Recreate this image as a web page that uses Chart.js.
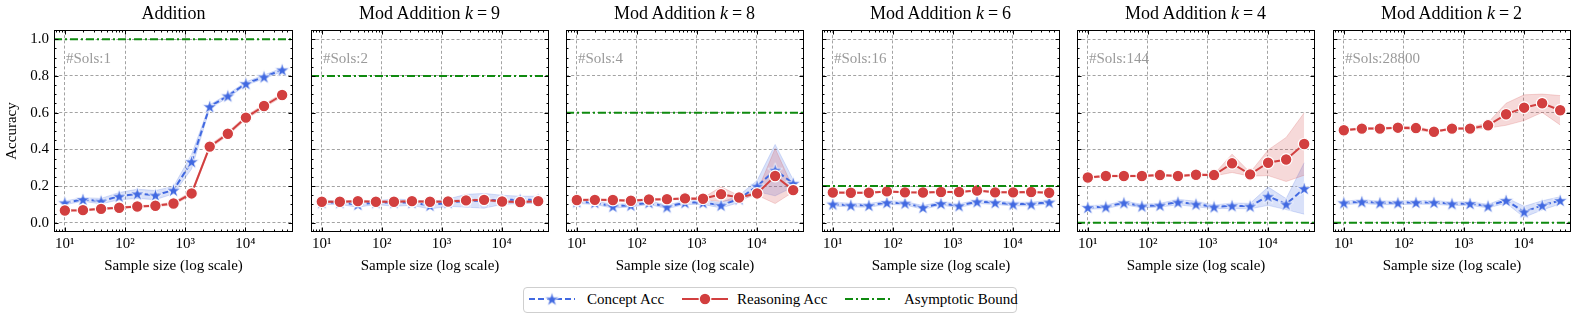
<!DOCTYPE html>
<html>
<head>
<meta charset="utf-8">
<script src="https://cdn.jsdelivr.net/npm/chart.js@4.4.1/dist/chart.umd.min.js"></script>
<style>
  html, body { margin: 0; padding: 0; background: #fff; }
  #wrap { position: relative; width: 1578px; height: 320px; overflow: hidden; font-family: 'Liberation Serif', 'Times New Roman', serif; color: #000; }
  canvas { position: absolute; top: 0; }
  .ptitle { position: absolute; top: 3px; width: 239px; text-align: center; font-size: 18px; line-height: 20px; white-space: nowrap; }
  .ptitle .eq { margin: 0 4px; }
  #legend { position: absolute; left: 523px; top: 287px; width: 492px; height: 24px; border: 1px solid #cfcfcf; border-radius: 4px; background: #fff; }
  .ltext { position: absolute; top: 290px; font-size: 15px; line-height: 18px; white-space: nowrap; }
</style>
</head>
<body>
<div id="wrap"></div>
<script>
// ---------------- data ----------------
const sampleSizes = [10, 20, 40, 80, 160, 320, 640, 1280, 2560, 5120, 10240, 20480, 40960];
const panelNames = ['Addition', 'Mod Addition', 'Mod Addition', 'Mod Addition', 'Mod Addition', 'Mod Addition'];
const modulusK = [null, 9, 8, 6, 4, 2];
const numSols = [1, 2, 4, 16, 144, 28800];
const asymptoticBound = [1.0, 0.8, 0.6, 0.2, 0.0, 0.0];
const xTickValues = [10, 100, 1000, 10000];
const xTickLabels = ['10¹', '10²', '10³', '10⁴'];
const yTickValues = [0.0, 0.2, 0.4, 0.6, 0.8, 1.0];
const yTickLabels = ['0.0', '0.2', '0.4', '0.6', '0.8', '1.0'];
const seriesNames = ['Concept Acc', 'Reasoning Acc', 'Asymptotic Bound'];

// Addition
const conceptAdd      = [0.109, 0.127, 0.118, 0.145, 0.158, 0.151, 0.178, 0.333, 0.633, 0.691, 0.758, 0.795, 0.833];
const conceptAddErr   = [0.010, 0.010, 0.015, 0.020, 0.025, 0.025, 0.020, 0.040, 0.010, 0.010, 0.010, 0.010, 0.010];
const reasoningAdd    = [0.067, 0.069, 0.076, 0.082, 0.089, 0.093, 0.105, 0.160, 0.415, 0.485, 0.573, 0.636, 0.696];
const reasoningAddErr = [0.005, 0.005, 0.005, 0.005, 0.005, 0.005, 0.008, 0.010, 0.010, 0.010, 0.010, 0.010, 0.010];
// Mod Addition k=9
const conceptK9       = [0.110, 0.110, 0.100, 0.110, 0.110, 0.110, 0.095, 0.110, 0.120, 0.120, 0.125, 0.125, 0.125];
const conceptK9Err    = [0.010, 0.010, 0.015, 0.010, 0.020, 0.015, 0.020, 0.020, 0.035, 0.040, 0.025, 0.020, 0.020];
const reasoningK9     = [0.115, 0.115, 0.118, 0.115, 0.115, 0.118, 0.115, 0.116, 0.122, 0.125, 0.116, 0.113, 0.118];
const reasoningK9Err  = [0.005, 0.005, 0.005, 0.005, 0.005, 0.005, 0.005, 0.005, 0.005, 0.005, 0.005, 0.005, 0.005];
// Mod Addition k=8
const conceptK8       = [0.115, 0.110, 0.090, 0.096, 0.110, 0.087, 0.110, 0.110, 0.096, 0.130, 0.200, 0.287, 0.215];
const conceptK8Err    = [0.010, 0.010, 0.010, 0.010, 0.010, 0.010, 0.010, 0.010, 0.015, 0.020, 0.030, 0.140, 0.020];
const reasoningK8     = [0.124, 0.125, 0.124, 0.120, 0.127, 0.129, 0.133, 0.131, 0.156, 0.138, 0.160, 0.255, 0.178];
const reasoningK8Err  = [0.005, 0.005, 0.005, 0.005, 0.005, 0.005, 0.005, 0.005, 0.040, 0.010, 0.010, 0.150, 0.010];
// Mod Addition k=6
const conceptK6       = [0.102, 0.096, 0.095, 0.110, 0.107, 0.084, 0.105, 0.093, 0.115, 0.110, 0.102, 0.102, 0.113];
const conceptK6Err    = [0.010, 0.010, 0.010, 0.010, 0.010, 0.010, 0.010, 0.010, 0.010, 0.010, 0.010, 0.010, 0.010];
const reasoningK6     = [0.165, 0.164, 0.164, 0.171, 0.166, 0.165, 0.168, 0.168, 0.176, 0.166, 0.166, 0.168, 0.164];
const reasoningK6Err  = [0.004, 0.004, 0.004, 0.004, 0.004, 0.004, 0.004, 0.004, 0.004, 0.004, 0.004, 0.004, 0.004];
// Mod Addition k=4
const conceptK4       = [0.084, 0.087, 0.109, 0.091, 0.096, 0.113, 0.102, 0.087, 0.093, 0.091, 0.145, 0.102, 0.187];
const conceptK4Err    = [0.010, 0.010, 0.010, 0.010, 0.010, 0.015, 0.015, 0.010, 0.015, 0.015, 0.050, 0.030, 0.140];
const reasoningK4     = [0.247, 0.255, 0.255, 0.255, 0.260, 0.255, 0.262, 0.260, 0.324, 0.264, 0.327, 0.345, 0.429];
const reasoningK4Err  = [0.005, 0.005, 0.005, 0.005, 0.005, 0.005, 0.005, 0.005, 0.050, 0.010, 0.070, 0.120, 0.170];
// Mod Addition k=2
const conceptK2       = [0.109, 0.115, 0.109, 0.109, 0.111, 0.111, 0.104, 0.105, 0.091, 0.122, 0.060, 0.095, 0.122];
const conceptK2Err    = [0.010, 0.010, 0.010, 0.010, 0.010, 0.010, 0.010, 0.010, 0.010, 0.015, 0.030, 0.025, 0.020];
const reasoningK2     = [0.504, 0.513, 0.513, 0.518, 0.516, 0.496, 0.513, 0.513, 0.531, 0.591, 0.627, 0.651, 0.613];
const reasoningK2Err  = [0.005, 0.005, 0.005, 0.005, 0.010, 0.005, 0.005, 0.005, 0.015, 0.060, 0.070, 0.050, 0.080];

const conceptSeries   = [conceptAdd, conceptK9, conceptK8, conceptK6, conceptK4, conceptK2];
const conceptErrs     = [conceptAddErr, conceptK9Err, conceptK8Err, conceptK6Err, conceptK4Err, conceptK2Err];
const reasoningSeries = [reasoningAdd, reasoningK9, reasoningK8, reasoningK6, reasoningK4, reasoningK2];
const reasoningErrs   = [reasoningAddErr, reasoningK9Err, reasoningK8Err, reasoningK6Err, reasoningK4Err, reasoningK2Err];

// ---------------- style / layout ----------------
const BLUE = '#4169e1', BLUE_BAND = 'rgba(65,105,225,0.2)', BLUE_EDGE = 'rgba(65,105,225,0.25)';
const RED = '#d23f3f', RED_BAND = 'rgba(210,63,63,0.2)', RED_EDGE = 'rgba(210,63,63,0.25)';
const GREEN = '#0f8a0f';
const FONT = "'Liberation Serif', 'Times New Roman', serif";
const panelLefts = [54, 310, 565, 821, 1076, 1332];
const panelWidth = 239;
const canvasH = 280;
const LINE_W = 2;

// axis limits (matplotlib-like 5% margins)
const logLo = Math.log10(sampleSizes[0]), logHi = Math.log10(sampleSizes[sampleSizes.length - 1]);
const logPad = 0.05 * (logHi - logLo);
const xAxisMin = Math.pow(10, logLo - logPad), xAxisMax = Math.pow(10, logHi + logPad);
const yAxisMin = -0.05, yAxisMax = 1.05;

Chart.defaults.font.family = FONT;
Chart.defaults.font.size = 15;
Chart.defaults.color = '#000';

function makeStar(R, fill, stroke, lw) {
  const size = Math.ceil(2 * R + 2 * lw + 2);
  const c = document.createElement('canvas');
  c.width = size; c.height = size;
  const g = c.getContext('2d');
  const cx = size / 2, cy = size / 2 + 0.7;
  g.beginPath();
  for (let k = 0; k < 10; k++) {
    const ang = -Math.PI / 2 + k * Math.PI / 5;
    const r = k % 2 === 0 ? R : R * 0.381966;
    const px = cx + r * Math.cos(ang), py = cy + r * Math.sin(ang);
    if (k === 0) g.moveTo(px, py); else g.lineTo(px, py);
  }
  g.closePath();
  g.fillStyle = fill; g.fill();
  g.lineWidth = lw; g.strokeStyle = stroke; g.stroke();
  return c;
}
const starImg = makeStar(7.6, BLUE, '#ffffff', 0.9);

const framePlugin = {
  id: 'frame',
  afterDraw(chart, args, opts) {
    const {ctx, chartArea: a, scales: {x, y}} = chart;
    const L = Math.round(a.left) + 0.5, R = Math.round(a.right) - 0.5;
    const T = Math.round(a.top) + 0.5, B = Math.round(a.bottom) - 0.5;
    ctx.save();
    ctx.strokeStyle = '#000';
    ctx.lineWidth = 1;
    ctx.beginPath();
    for (let e = 0; e <= 5; e++) {
      for (let m = 1; m <= 9; m++) {
        const v = m * Math.pow(10, e);
        if (v <= x.min || v >= x.max) continue;
        const px = Math.round(x.getPixelForValue(v)) + 0.5;
        const len = m === 1 ? 4 : 2;
        ctx.moveTo(px, B); ctx.lineTo(px, B - len);
        ctx.moveTo(px, T); ctx.lineTo(px, T + len);
      }
    }
    for (let k = -1; k <= 21; k++) {
      const v = k * 0.05;
      if (v <= y.min + 1e-9 || v >= y.max - 1e-9) continue;
      const py = Math.round(y.getPixelForValue(v)) + 0.5;
      const len = k % 4 === 0 ? 4 : 2;
      ctx.moveTo(L, py); ctx.lineTo(L + len, py);
      ctx.moveTo(R, py); ctx.lineTo(R - len, py);
    }
    ctx.stroke();
    ctx.strokeRect(L, T, R - L, B - T);
    ctx.fillStyle = '#9a9a9a';
    ctx.font = '15px ' + FONT;
    ctx.textBaseline = 'alphabetic';
    ctx.textAlign = 'left';
    ctx.fillText('#Sols:' + opts.sols, a.left + 0.05 * a.width, a.top + 0.1 * a.height + 13);
    ctx.restore();
  }
};

const wrap = document.getElementById('wrap');

function pts(arr) { return sampleSizes.map((s, j) => ({x: s, y: arr[j]})); }
function band(arr, err, sign) { return sampleSizes.map((s, j) => ({x: s, y: arr[j] + sign * err[j]})); }

for (let i = 0; i < 6; i++) {
  const first = i === 0;
  const yW = first ? 54 : 8;
  const cLeft = panelLefts[i] - yW;
  const cW = yW + panelWidth + 9;
  const canvas = document.createElement('canvas');
  canvas.width = cW; canvas.height = canvasH;
  canvas.style.left = cLeft + 'px';
  canvas.style.width = cW + 'px'; canvas.style.height = canvasH + 'px';
  wrap.appendChild(canvas);

  const t = document.createElement('div');
  t.className = 'ptitle';
  t.style.left = panelLefts[i] + 'px';
  t.innerHTML = modulusK[i] === null ? panelNames[i]
    : panelNames[i] + ' <i>k</i><span class="eq">=</span>' + modulusK[i];
  wrap.appendChild(t);

  const b = asymptoticBound[i];
  new Chart(canvas, {
    type: 'line',
    data: {
      datasets: [
        {label: 'concept upper', data: band(conceptSeries[i], conceptErrs[i], 1), fill: '+1', backgroundColor: BLUE_BAND, borderColor: BLUE_EDGE, borderWidth: 0.8, pointRadius: 0, order: 10},
        {label: 'concept lower', data: band(conceptSeries[i], conceptErrs[i], -1), fill: false, borderColor: BLUE_EDGE, borderWidth: 0.8, pointRadius: 0, order: 10},
        {label: 'reasoning upper', data: band(reasoningSeries[i], reasoningErrs[i], 1), fill: '+1', backgroundColor: RED_BAND, borderColor: RED_EDGE, borderWidth: 0.8, pointRadius: 0, order: 9},
        {label: 'reasoning lower', data: band(reasoningSeries[i], reasoningErrs[i], -1), fill: false, borderColor: RED_EDGE, borderWidth: 0.8, pointRadius: 0, order: 9},
        {label: seriesNames[0], data: pts(conceptSeries[i]), borderColor: BLUE, borderWidth: LINE_W, borderDash: [6, 3], pointStyle: starImg, pointRadius: 7, fill: false, order: 3},
        {label: seriesNames[1], data: pts(reasoningSeries[i]), borderColor: RED, borderWidth: LINE_W, pointStyle: 'circle', pointRadius: 5.8, pointBackgroundColor: RED, pointBorderColor: '#ffffff', pointBorderWidth: 1.2, fill: false, order: 2},
        {label: seriesNames[2], data: [{x: xAxisMin, y: b}, {x: xAxisMax, y: b}], borderColor: GREEN, borderWidth: LINE_W, borderDash: [8, 3, 2, 3], pointRadius: 0, fill: false, order: 1}
      ]
    },
    options: {
      responsive: false,
      animation: false,
      devicePixelRatio: 1,
      events: [],
      layout: {padding: {left: 0, right: 9, top: 30, bottom: 0}},
      elements: {line: {tension: 0}},
      plugins: {
        legend: {display: false},
        tooltip: {enabled: false},
        title: {display: false},
        frame: {sols: numSols[i]}
      },
      scales: {
        x: {
          type: 'logarithmic',
          min: xAxisMin, max: xAxisMax,
          bounds: 'data',
          afterBuildTicks: s => { s.ticks = xTickValues.map(v => ({value: v})); },
          afterFit: s => { s.height = 48; },
          ticks: {
            autoSkip: false, maxRotation: 0, padding: 3,
            font: {size: 15, family: FONT}, color: '#000',
            callback: (v) => xTickLabels[xTickValues.indexOf(v)]
          },
          grid: {color: '#8c8c8c', lineWidth: 0.8, drawTicks: false},
          border: {display: false, dash: [3, 2.2]},
          title: {display: true, text: 'Sample size (log scale)', font: {size: 15, family: FONT}, color: '#000', padding: {top: 0, bottom: 5}}
        },
        y: {
          type: 'linear',
          min: yAxisMin, max: yAxisMax,
          bounds: 'data',
          afterBuildTicks: s => { s.ticks = yTickValues.map(v => ({value: v})); },
          afterFit: s => { s.width = yW; },
          ticks: {
            display: first, padding: 5,
            font: {size: 15, family: FONT}, color: '#000',
            callback: (v, idx) => yTickLabels[idx]
          },
          grid: {color: '#8c8c8c', lineWidth: 0.8, drawTicks: false},
          border: {display: false, dash: [3, 2.2]},
          title: {display: first, text: 'Accuracy', font: {size: 15, family: FONT}, color: '#000', padding: {top: 3.5, bottom: 0}}
        }
      }
    },
    plugins: [framePlugin]
  });
}

// ---------------- legend ----------------
const legendBox = document.createElement('div');
legendBox.id = 'legend';
wrap.appendChild(legendBox);

function legendIcon(left, kind) {
  const c = document.createElement('canvas');
  c.width = 46; c.height = 18;
  c.style.left = left + 'px';
  c.style.top = '290px';
  c.style.width = '46px'; c.style.height = '18px';
  const g = c.getContext('2d');
  g.lineWidth = LINE_W;
  const yy = 9;
  if (kind === 0) {
    g.strokeStyle = BLUE; g.setLineDash([6, 3]);
    g.beginPath(); g.moveTo(0, yy); g.lineTo(46, yy); g.stroke();
    g.drawImage(starImg, 23 - starImg.width / 2, yy - starImg.height / 2);
  } else if (kind === 1) {
    g.strokeStyle = RED;
    g.beginPath(); g.moveTo(0, yy); g.lineTo(46, yy); g.stroke();
    g.beginPath(); g.arc(23, yy, 5.8, 0, Math.PI * 2);
    g.fillStyle = RED; g.fill(); g.lineWidth = 1.2; g.strokeStyle = '#fff'; g.stroke();
  } else {
    g.strokeStyle = GREEN; g.setLineDash([8, 3, 2, 3]);
    g.beginPath(); g.moveTo(0, yy); g.lineTo(46, yy); g.stroke();
  }
  wrap.appendChild(c);
}
function legendText(left, text) {
  const d = document.createElement('div');
  d.className = 'ltext';
  d.style.left = left + 'px';
  d.textContent = text;
  wrap.appendChild(d);
}
legendIcon(529, 0); legendText(587, seriesNames[0]);
legendIcon(682, 1); legendText(737, seriesNames[1]);
legendIcon(845, 2); legendText(904, seriesNames[2]);
</script>
</body>
</html>
